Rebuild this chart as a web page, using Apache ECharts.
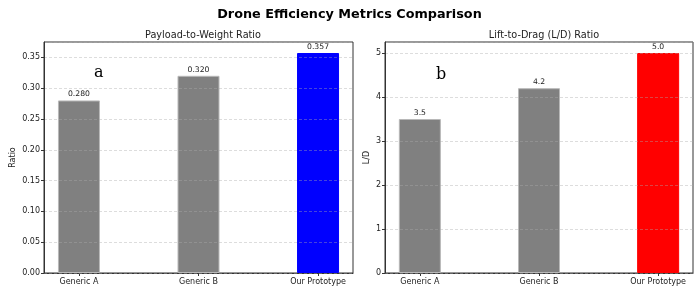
<!DOCTYPE html>
<html>
<head>
<meta charset="utf-8">
<script src="https://cdn.jsdelivr.net/npm/echarts@6/dist/echarts.min.js"></script>
<style>html,body{margin:0;padding:0;background:#fff}#c{width:699px;height:293px}</style>
</head>
<body>
<div id="c"></div>
<script>
const categories = ['Generic A', 'Generic B', 'Our Prototype'];
const payloadRatio = [0.280, 0.320, 0.357];
const ldRatio = [3.5, 4.2, 5.0];
const payloadColors = ['#808080', '#808080', '#0000ff'];
const ldColors = ['#808080', '#808080', '#ff0000'];

const FONT = 'DejaVu Sans';
const chart = echarts.init(document.getElementById('c'), null, {renderer: 'canvas'});

function xAxisFor(gi) {
  return {
    type: 'value', gridIndex: gi, min: -0.2925, max: 2.2925,
    axisLine: {show: true, onZero: false, lineStyle: {color: '#333', width: 1}},
    axisTick: {show: true, customValues: [0, 1, 2], length: 3, lineStyle: {color: '#333'}},
    axisLabel: {show: true, customValues: [0, 1, 2], formatter: v => categories[Math.round(v)] || '',
      fontFamily: FONT, fontSize: 8, color: '#222', margin: 5},
    splitLine: {show: false}
  };
}
function yAxisFor(gi, max, interval, name, fmt) {
  return {
    type: 'value', gridIndex: gi, min: 0, max: max, interval: interval, z: 3,
    name: name, nameLocation: 'middle', nameGap: gi === 0 ? 27 : 14, nameRotate: 90,
    nameTextStyle: {fontFamily: FONT, fontSize: 8, color: '#222'},
    axisLine: {show: true, onZero: false, lineStyle: {color: '#333', width: 1}},
    axisTick: {show: true, length: 3, lineStyle: {color: '#333'}},
    axisLabel: {formatter: fmt, fontFamily: FONT, fontSize: 8, color: '#222', margin: 4, showMaxLabel: false},
    splitLine: {show: true, lineStyle: {color: 'rgba(170,170,170,0.5)', type: [3, 2], width: 0.8}}
  };
}
function barSeries(gi, vals, colors, fmt) {
  return {
    type: 'bar', xAxisIndex: gi, yAxisIndex: gi, barWidth: 42, z: 2,
    data: vals.map((v, i) => ({value: [i, v], itemStyle: {color: colors[i],
      borderColor: colors[i] === '#808080' ? '#b8b8b8' : colors[i], borderWidth: 1}})),
    label: {show: true, position: 'top', distance: 2, formatter: p => fmt(p.value[1]),
      fontFamily: FONT, fontSize: 7.7, color: '#222'},
    animation: false
  };
}

chart.setOption({
  animation: false,
  backgroundColor: '#fff',
  title: [
    {text: 'Drone Efficiency Metrics Comparison', left: 'center', top: 3,
      textStyle: {fontFamily: FONT, fontSize: 12.8, fontWeight: 'bold', color: '#000'}},
    {text: 'Payload-to-Weight Ratio', left: 198, top: 25, textAlign: 'center',
      textStyle: {fontFamily: FONT, fontSize: 9.7, fontWeight: 'normal', color: '#222'}},
    {text: 'Lift-to-Drag (L/D) Ratio', left: 539, top: 25, textAlign: 'center',
      textStyle: {fontFamily: FONT, fontSize: 9.7, fontWeight: 'normal', color: '#222'}}
  ],
  grid: [
    {left: 44, right: 346, top: 42, bottom: 20, show: true, borderColor: '#333', borderWidth: 1, backgroundColor: 'transparent'},
    {left: 385, right: 6, top: 42, bottom: 20, show: true, borderColor: '#333', borderWidth: 1, backgroundColor: 'transparent'}
  ],
  xAxis: [xAxisFor(0), xAxisFor(1)],
  yAxis: [
    yAxisFor(0, 0.37485, 0.05, 'Ratio', v => v.toFixed(2)),
    yAxisFor(1, 5.25, 1, 'L/D', v => String(Math.round(v)))
  ],
  series: [
    barSeries(0, payloadRatio, payloadColors, v => v.toFixed(3)),
    barSeries(1, ldRatio, ldColors, v => v.toFixed(1))
  ],
  graphic: [
    {type: 'text', left: 94, top: 65, style: {text: 'a', fontFamily: 'DejaVu Serif', fontSize: 16, fill: '#000'}},
    {type: 'text', left: 436, top: 67, style: {text: 'b', fontFamily: 'DejaVu Serif', fontSize: 16, fill: '#000'}}
  ]
});
</script>
</body>
</html>
